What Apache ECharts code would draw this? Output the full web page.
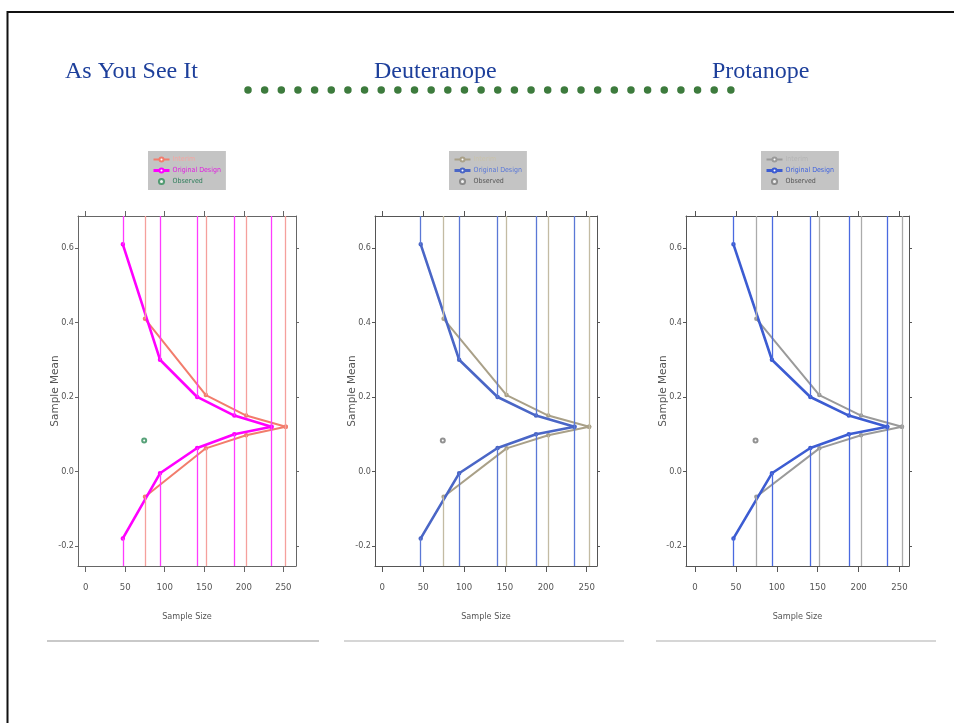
<!DOCTYPE html>
<html>
<head>
<meta charset="utf-8">
<script src="https://cdn.jsdelivr.net/npm/echarts@6/dist/echarts.min.js"></script>
<style>
  html, body { margin: 0; padding: 0; background: #fff; }
  #main { width: 954px; height: 723px; }
</style>
</head>
<body>
<div id="main"></div>
<script>
// panel headings
const panelTitles = ["As You See It", "Deuteranope", "Protanope"];

// original design: sample sizes and upper / lower boundary means
const designSize = [47, 94, 141, 188, 235];
const designUpper = [0.61, 0.30, 0.20, 0.15, 0.12];
const designLower = [-0.18, -0.005, 0.063, 0.10, 0.12];

// interim design
const interimSize = [75, 152, 203, 253];
const interimUpper = [0.41, 0.205, 0.15, 0.12];
const interimLower = [-0.068, 0.062, 0.097, 0.12];

// observed point
const observedSize = [74];
const observedMean = [0.083];

// tick labels
const xTicks = [0, 50, 100, 150, 200, 250];
const yTicks = [-0.2, 0, 0.2, 0.4, 0.6];

const yMin = -0.254, yMax = 0.686;
const narrow = "'Liberation Sans Narrow', 'DejaVu Sans Condensed', 'Liberation Sans', sans-serif";

// layout + colours of each panel (normal vision, deuteranope, protanope)
const panels = [
  { left: 78, width: 218, xMin: -9.7, xMax: 266, legendLeft: 148,
    interim: "#f27c6c", interimV: "#f5a09c", design: "#ff00ff", designV: "#ff3cff",
    observed: "#2e8b57", axis: "#666", legendText: ["#f5a5a0", "#e020e0", "#2e7d5a"] },
  { left: 375, width: 222, xMin: -8.9, xMax: 262.6, legendLeft: 449,
    interim: "#a9a088", interimV: "#c3bba3", design: "#4a66c6", designV: "#5b78d6",
    observed: "#777", axis: "#555", legendText: ["#c9c2aa", "#5a78d8", "#555"] },
  { left: 686, width: 223, xMin: -11, xMax: 261.6, legendLeft: 761,
    interim: "#9a9a9a", interimV: "#ababab", design: "#3c5cd2", designV: "#4a6ae0",
    observed: "#777", axis: "#555", legendText: ["#b5b5b5", "#3f63e0", "#555"] }
];

const titleLeft = [65, 374, 712];

function boundaryPath(xs, up, low) {
  const top = xs.map((x, i) => [x, up[i]]);
  const bottom = xs.map((x, i) => [x, low[i]]).reverse();
  return top.concat(bottom);
}

function needles(xs, up, low) {
  const fromTop = xs.map((x, i) => [{ coord: [x, yMax] }, { coord: [x, up[i]] }]);
  const fromBottom = xs.map((x, i) => [{ coord: [x, yMin] }, { coord: [x, low[i]] }]);
  return fromTop.concat(fromBottom);
}

const grid = [], xAxis = [], yAxis = [], series = [], legend = [], title = [];

panels.forEach((p, i) => {
  grid.push({ left: p.left, top: 216, width: p.width, height: 350 });

  const line = { color: p.axis, width: 1 };
  xAxis.push({
    gridIndex: i, type: "value", position: "bottom", min: p.xMin, max: p.xMax,
    name: "Sample Size", nameLocation: "middle", nameGap: 46, nameMoveOverlap: false,
    nameTextStyle: { fontFamily: narrow, fontSize: 9, color: "#555" },
    axisLine: { onZero: false, lineStyle: line },
    axisTick: { customValues: xTicks, length: 6, lineStyle: line },
    axisLabel: { customValues: xTicks, margin: 17, fontFamily: narrow, fontSize: 9.5, color: "#555" },
    splitLine: { show: false }
  });
  xAxis.push({
    gridIndex: i, type: "value", position: "top", min: p.xMin, max: p.xMax,
    axisLine: { onZero: false, lineStyle: line },
    axisTick: { customValues: xTicks, length: 5, lineStyle: line },
    axisLabel: { show: false },
    splitLine: { show: false }
  });
  yAxis.push({
    gridIndex: i, type: "value", position: "left", min: yMin, max: yMax,
    name: "Sample Mean", nameLocation: "middle", nameGap: 17, nameMoveOverlap: false,
    nameTextStyle: { fontFamily: "'DejaVu Sans', sans-serif", fontSize: 10.5, color: "#555" },
    axisLine: { onZero: false, lineStyle: line },
    axisTick: { customValues: yTicks, length: 3, lineStyle: line },
    axisLabel: { customValues: yTicks, margin: 4, fontFamily: narrow, fontSize: 9, color: "#555",
      formatter: v => v.toFixed(1) },
    splitLine: { show: false }
  });
  yAxis.push({
    gridIndex: i, type: "value", position: "right", min: yMin, max: yMax,
    axisLine: { onZero: false, lineStyle: line },
    axisTick: { customValues: yTicks, length: 3, lineStyle: line },
    axisLabel: { show: false },
    splitLine: { show: false }
  });

  const xi = 2 * i, yi = 2 * i;
  series.push({
    name: "Interim", type: "line", xAxisIndex: xi, yAxisIndex: yi,
    data: boundaryPath(interimSize, interimUpper, interimLower),
    symbol: "emptyCircle", symbolSize: 2.5, z: 3,
    lineStyle: { color: p.interim, width: 2 }, itemStyle: { color: p.interim },
    markLine: {
      silent: true, symbol: ["none", "none"], label: { show: false },
      lineStyle: { color: p.interimV, width: 1.3, type: "solid" },
      data: needles(interimSize, interimUpper, interimLower)
    }
  });
  series.push({
    name: "Original Design", type: "line", xAxisIndex: xi, yAxisIndex: yi,
    data: boundaryPath(designSize, designUpper, designLower),
    symbol: "emptyCircle", symbolSize: 2.5, z: 4,
    lineStyle: { color: p.design, width: 2.6 }, itemStyle: { color: p.design },
    markLine: {
      silent: true, symbol: ["none", "none"], label: { show: false },
      lineStyle: { color: p.designV, width: 1.3, type: "solid" },
      data: needles(designSize, designUpper, designLower)
    }
  });
  series.push({
    name: "Observed", type: "scatter", xAxisIndex: xi, yAxisIndex: yi,
    data: observedSize.map((x, k) => [x, observedMean[k]]),
    symbol: "emptyCircle", symbolSize: 4, itemStyle: { color: p.observed }
  });

  legend.push({
    left: p.legendLeft, top: 151, orient: "vertical", selectedMode: false,
    backgroundColor: "#c4c4c4", padding: [5, 5, 5, 4], itemGap: 4,
    itemWidth: 16, itemHeight: 5,
    textStyle: { fontFamily: narrow, fontSize: 7, padding: [0, 0, 0, -2] },
    data: [
      { name: "Interim", itemStyle: { color: p.interim }, lineStyle: { color: p.interim, width: 2 },
        textStyle: { color: p.legendText[0] } },
      { name: "Original Design", itemStyle: { color: p.design }, lineStyle: { color: p.design, width: 3 },
        textStyle: { color: p.legendText[1] } },
      { name: "Observed", icon: "emptyCircle", itemStyle: { color: p.observed, borderColor: p.observed },
        textStyle: { color: p.legendText[2] } }
    ]
  });

  title.push({
    text: panelTitles[i], left: titleLeft[i], top: 59, padding: 0,
    textStyle: { fontFamily: "'Liberation Serif', 'Times New Roman', serif", fontSize: 24,
      fontWeight: "normal", color: "#1d3f9b", lineHeight: 26 }
  });
});

const chart = echarts.init(document.getElementById("main"));
chart.setOption({
  animation: false,
  backgroundColor: "#fff",
  title, grid, xAxis, yAxis, series, legend,
  graphic: [
    // slide frame
    { type: "polyline", silent: true,
      shape: { points: [[7.5, 723], [7.5, 12], [954, 12]] },
      style: { stroke: "#111", lineWidth: 2, fill: null } },
    // dotted rule under the headings
    { type: "line", silent: true,
      shape: { x1: 248, y1: 90, x2: 732, y2: 90 },
      style: { stroke: "#3d7b3d", lineWidth: 7.5, lineCap: "round", lineDash: [0.01, 16.64] } },
    // separators under each panel
    { type: "line", silent: true, shape: { x1: 47, y1: 641, x2: 319, y2: 641 },
      style: { stroke: "#c9c9c9", lineWidth: 2 } },
    { type: "line", silent: true, shape: { x1: 344, y1: 641, x2: 624, y2: 641 },
      style: { stroke: "#d6d6d6", lineWidth: 2 } },
    { type: "line", silent: true, shape: { x1: 656, y1: 641, x2: 936, y2: 641 },
      style: { stroke: "#d6d6d6", lineWidth: 2 } }
  ]
});
</script>
</body>
</html>
